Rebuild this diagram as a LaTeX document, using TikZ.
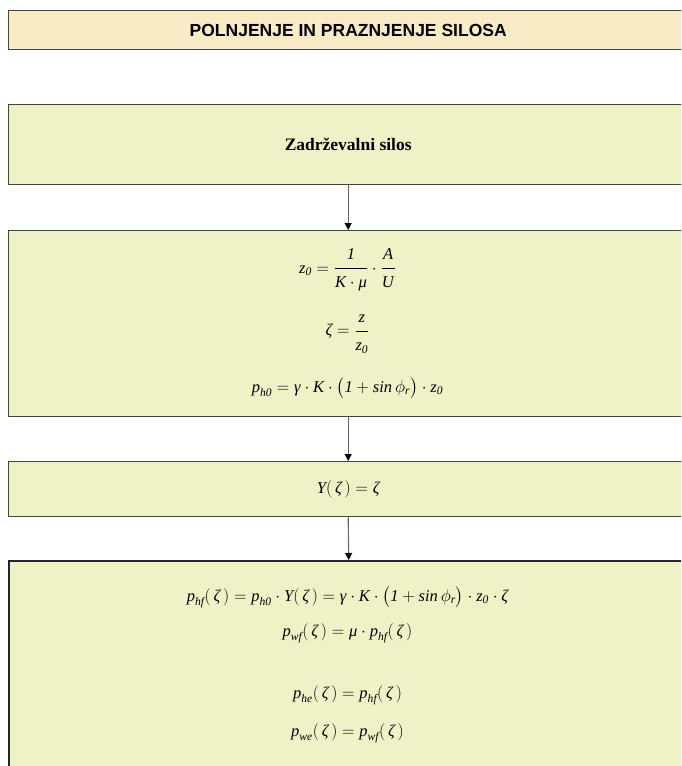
\documentclass[tikz,border=0pt]{standalone}
\usepackage{amsmath}
\usepackage{fontspec}
\setmainfont{Liberation Serif}
\newfontfamily\arialfont{Liberation Sans}
\usetikzlibrary{arrows.meta}
\definecolor{titlefill}{HTML}{F8EBC5}
\definecolor{boxfill}{HTML}{EFF2C6}
\definecolor{edge}{HTML}{45453C}
\newcommand\I[1]{\textit{#1}}
\newcommand\nm[1]{\raisebox{2pt}{#1}}
\newcommand\dn[1]{\raisebox{-3pt}{#1}}
\newcommand\md{\cdot}
\begin{document}
\begin{tikzpicture}[x=1pt,y=-1pt,
  box/.style={draw=edge, line width=1.4pt, fill=boxfill, minimum width=679pt, anchor=north west, inner sep=0pt},
  arr/.style={draw=black!60, line width=1.1pt, -{Triangle[length=7pt,width=7pt,fill=black,color=black]}},
  eq/.style={font=\fontsize{16.5}{18}\selectfont, inner sep=0pt}]
\useasboundingbox (0,0) rectangle (681,766);
\clip (0,0) rectangle (681,766);
\node[box, fill=titlefill, minimum height=39pt, font=\arialfont\bfseries\fontsize{17.5}{19}\selectfont] (title) at (8,10) {POLNJENJE IN PRAZNJENJE SILOSA};
\node[box, minimum height=80pt, font=\bfseries\fontsize{17.5}{19}\selectfont] (silos) at (8,104) {Zadrževalni silos};
\node[box, minimum height=186pt] (param) at (8,230) {};
\node[box, minimum height=55pt, font=\fontsize{16.5}{18}\selectfont] (yfun) at (8,461) {$\I{Y}(\,\I{ζ}\,)=\I{ζ}$};
\node[box, line width=2.4pt, draw=black!85, minimum height=260pt] (press) at (8,560) {};
% equations of box 3
\node[eq] (e1) at (347.5,270) {$\I{z}_{\I{0}} = \dfrac{\nm{\I{1}}}{\dn{$\I{K}\md\I{μ}$}}\md\dfrac{\nm{\I{A}}}{\dn{\I{U}}}$};
\node[eq] (e2) at (347.5,334) {$\I{ζ} = \dfrac{\nm{\I{z}}}{\dn{$\I{z}_{\I{0}}$}}$};
\node[eq] (e3) at (347.5,388) {$\I{p}_{\I{h0}} = \I{γ}\md\I{K}\md\bigl(\I{1}+\I{sin}\,\phi_{\I{r}}\bigr)\md\I{z}_{\I{0}}$};
% equations of box 5
\node[eq] (f1) at (347.5,597) {$\I{p}_{\I{hf}}(\,\I{ζ}\,)=\I{p}_{\I{h0}}\md\I{Y}(\,\I{ζ}\,)=\I{γ}\md\I{K}\md\bigl(\I{1}+\I{sin}\,\phi_{\I{r}}\bigr)\md\I{z}_{\I{0}}\md\I{ζ}$};
\node[eq] (f2) at (347.5,633) {$\I{p}_{\I{wf}}(\,\I{ζ}\,)=\I{μ}\md\I{p}_{\I{hf}}(\,\I{ζ}\,)$};
\node[eq] (f3) at (347.5,695) {$\I{p}_{\I{he}}(\,\I{ζ}\,)=\I{p}_{\I{hf}}(\,\I{ζ}\,)$};
\node[eq] (f4) at (347.5,733) {$\I{p}_{\I{we}}(\,\I{ζ}\,)=\I{p}_{\I{wf}}(\,\I{ζ}\,)$};
% connectors
\draw[arr] (silos.south) -- (param.north);
\draw[arr] (param.south) -- (yfun.north);
\draw[arr] (yfun.south) -- (press.north);
\end{tikzpicture}
\end{document}
